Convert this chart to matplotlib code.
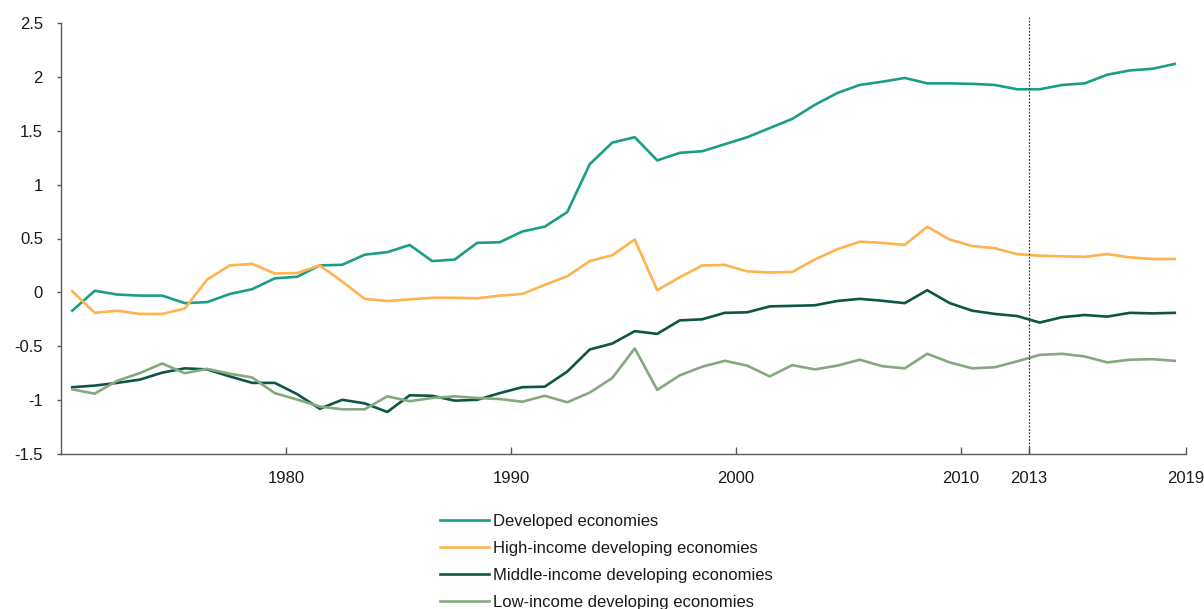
import numpy as np
import matplotlib
matplotlib.use("Agg")
from matplotlib import pyplot as plt

plt.rcParams["font.family"] = ["Liberation Sans", "DejaVu Sans"]

years = np.arange(1970, 2020)

developed = [
    -0.17, 0.015, -0.02, -0.03, -0.03, -0.10, -0.09, -0.015, 0.03, 0.13,
    0.145, 0.25, 0.256, 0.35, 0.373, 0.44, 0.29, 0.305, 0.46, 0.465,
    0.565, 0.61, 0.745, 1.19, 1.39, 1.44, 1.225, 1.295, 1.31, 1.375,
    1.44, 1.525, 1.61, 1.74, 1.85, 1.925, 1.955, 1.99, 1.94, 1.94,
    1.935, 1.925, 1.885, 1.885, 1.925, 1.94, 2.02, 2.06, 2.075, 2.12,
]

high_income = [
    0.01, -0.19, -0.17, -0.20, -0.20, -0.15, 0.12, 0.25, 0.265, 0.175,
    0.18, 0.25, 0.10, -0.06, -0.08, -0.065, -0.05, -0.05, -0.055, -0.03,
    -0.015, 0.07, 0.15, 0.29, 0.345, 0.49, 0.02, 0.14, 0.25, 0.255,
    0.195, 0.185, 0.19, 0.305, 0.40, 0.47, 0.46, 0.44, 0.61, 0.49,
    0.43, 0.41, 0.355, 0.34, 0.335, 0.33, 0.355, 0.325, 0.31, 0.31,
]

middle_income = [
    -0.88, -0.865, -0.84, -0.81, -0.745, -0.705, -0.715, -0.78, -0.84, -0.84,
    -0.945, -1.08, -0.997, -1.03, -1.11, -0.955, -0.96, -1.005, -0.997, -0.935,
    -0.88, -0.875, -0.735, -0.53, -0.475, -0.36, -0.385, -0.26, -0.25, -0.19,
    -0.185, -0.13, -0.125, -0.12, -0.08, -0.06, -0.078, -0.10, 0.02, -0.10,
    -0.17, -0.20, -0.22, -0.28, -0.23, -0.21, -0.225, -0.19, -0.195, -0.19,
]

low_income = [
    -0.90, -0.94, -0.82, -0.75, -0.66, -0.75, -0.71, -0.755, -0.79, -0.935,
    -0.995, -1.06, -1.085, -1.085, -0.965, -1.01, -0.98, -0.965, -0.98, -0.99,
    -1.015, -0.96, -1.02, -0.93, -0.795, -0.52, -0.905, -0.77, -0.69, -0.635,
    -0.68, -0.78, -0.675, -0.715, -0.68, -0.625, -0.685, -0.705, -0.57, -0.65,
    -0.705, -0.695, -0.64, -0.58, -0.57, -0.595, -0.65, -0.625, -0.62, -0.635,
]

labels = [
    "Developed economies",
    "High-income developing economies",
    "Middle-income developing economies",
    "Low-income developing economies",
]
colors = ["#1b9e85", "#ffb34f", "#0d5546", "#85a97f"]

tick_years = [1980, 1990, 2000, 2010, 2013, 2019]

fig = plt.figure(figsize=(12.04, 6.09), dpi=100)
ax = fig.add_axes([61 / 1204, 1 - 454 / 609, (1186 - 61) / 1204, (454 - 23) / 609])

for series, label, color in zip([developed, high_income, middle_income, low_income], labels, colors):
    ax.plot(years, series, color=color, linewidth=1.9, label=label)

# category ticks sit between the yearly points, the last one at the axis end
x_end = years[-1] + 0.5
ax.set_xlim(years[0] - 0.5, x_end)
tick_pos = [y - 0.5 for y in tick_years[:-1]] + [x_end]
ax.set_xticks(tick_pos)
ax.set_xticklabels([str(y) for y in tick_years])

ax.set_ylim(-1.5, 2.5)
ax.set_yticks(np.arange(-1.5, 2.6, 0.5))
ax.set_yticklabels(["-1.5", "-1", "-0.5", "0", "0.5", "1", "1.5", "2", "2.5"])

ax.axvline(2013 - 0.5, ymin=0, ymax=1.014, color="#404040", linestyle=(0, (1.5, 1.2)),
           linewidth=0.9, clip_on=False)

for side in ["top", "right"]:
    ax.spines[side].set_visible(False)
for side in ["left", "bottom"]:
    ax.spines[side].set_color("#595959")
    ax.spines[side].set_linewidth(1.0)

ax.tick_params(axis="y", direction="out", length=3, width=1, color="#595959",
               labelsize=12, labelcolor="#1a1a1a", pad=10)
ax.tick_params(axis="x", direction="in", length=5, width=1, color="#595959",
               labelsize=12, labelcolor="#1a1a1a", pad=12)

fig.legend(loc="upper left", bbox_to_anchor=(440 / 1204, 1 - 514 / 609),
           frameon=False, fontsize=12, handlelength=2.94, handletextpad=0.25,
           labelspacing=0.71, borderpad=0, borderaxespad=0, labelcolor="#1a1a1a")

fig.savefig("out.png", dpi=100)
